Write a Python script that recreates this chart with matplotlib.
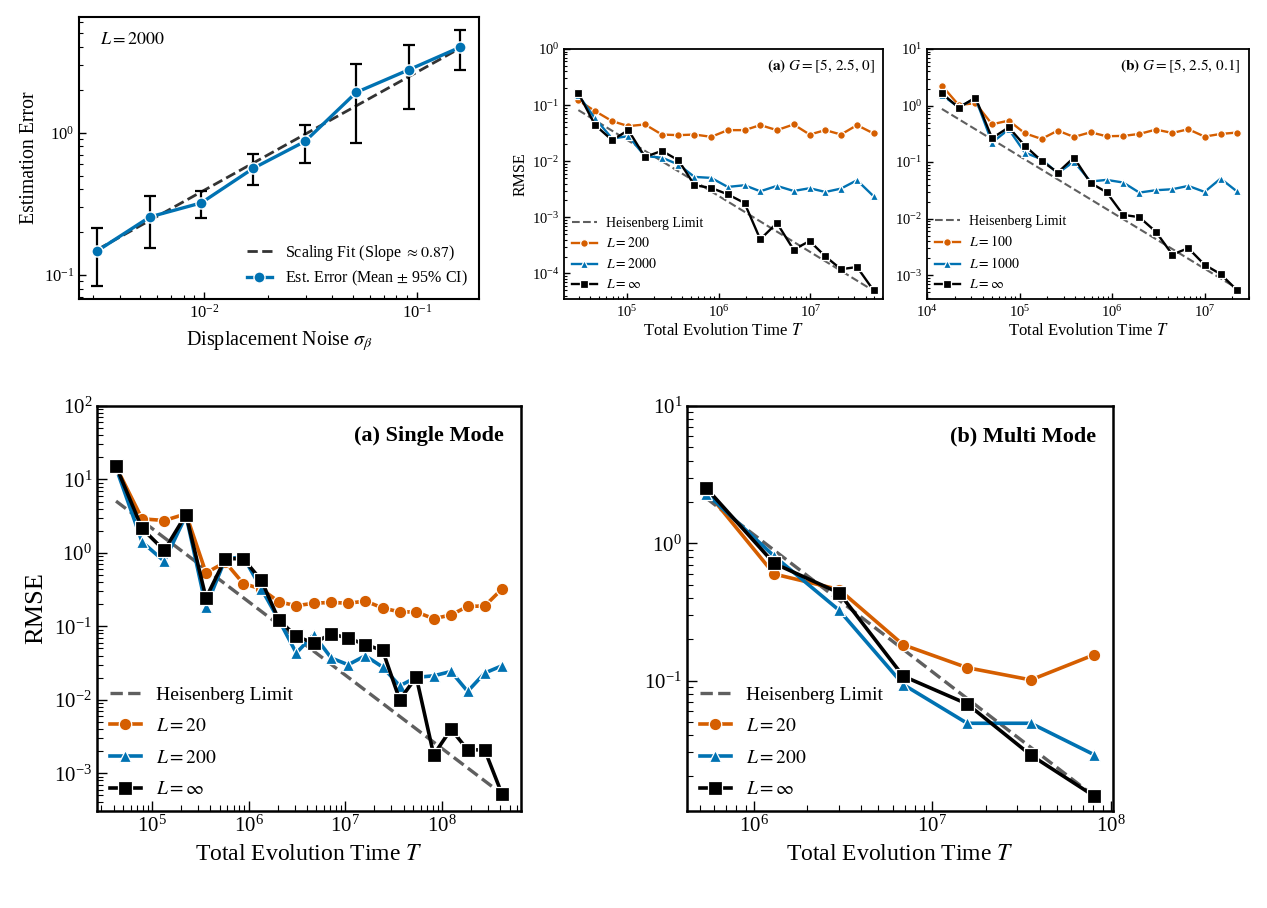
import numpy as np
import matplotlib
matplotlib.use("Agg")
import matplotlib.pyplot as plt
from matplotlib.ticker import LogLocator, NullFormatter

plt.rcParams['font.family'] = ['Liberation Serif', 'DejaVu Serif']
plt.rcParams['mathtext.fontset'] = 'stix'

ORANGE = '#D55E00'
BLUE = '#0072B2'
BLACK = '#000000'
HLGRAY = '#5f5f5f'

# ---------------- Top-left: estimation error vs displacement noise ----------------
sigma_beta = [0.00315, 0.00556, 0.00968, 0.0170, 0.0298, 0.0518, 0.0916, 0.159]
err_mean = [0.148, 0.256, 0.321, 0.562, 0.87, 1.92, 2.77, 3.98]
ci_low = [0.084, 0.154, 0.25, 0.427, 0.616, 0.842, 1.47, 2.74]
ci_high = [0.213, 0.357, 0.389, 0.705, 1.13, 3.03, 4.13, 5.25]
fit_sigma = [0.00315, 0.159]
fit_err = [0.151, 3.92]

# ---------------- Top-middle: (a) G=[5,2.5,0] ----------------
tA = [2.97e4, 4.52e4, 6.92e4, 1.04e5, 1.58e5, 2.41e5, 3.66e5, 5.47e5, 8.32e5, 1.26e6,
      1.92e6, 2.85e6, 4.33e6, 6.58e6, 9.84e6, 1.46e7, 2.16e7, 3.23e7, 4.9e7]
a_L200 = [0.121, 0.0781, 0.0518, 0.0422, 0.0452, 0.0299, 0.0291, 0.0299, 0.0272, 0.0358,
          0.0358, 0.044, 0.0358, 0.0452, 0.0299, 0.0358, 0.0299, 0.044, 0.0312]
a_L2000 = [0.151, 0.0578, 0.0254, 0.0279, 0.0123, 0.0116, 0.00872, 0.00525, 0.00504, 0.00348,
           0.00373, 0.00291, 0.00363, 0.00295, 0.0033, 0.00283, 0.00325, 0.00458, 0.00237]
a_Linf = [0.162, 0.044, 0.0237, 0.0358, 0.0119, 0.0153, 0.0104, 0.00373, 0.00334, 0.00257,
          0.0018, 0.000405, 0.000792, 0.000265, 0.000378, 0.000201, 0.000119, 0.00013, 0.0000497]
a_hl_t = [2.97e4, 4.9e7]
a_hl = [0.0814, 4.9e-5]

# ---------------- Top-right: (b) G=[5,2.5,0.1] ----------------
tB = [1.45e4, 2.2e4, 3.34e4, 5.05e4, 7.65e4, 1.14e5, 1.73e5, 2.59e5, 3.87e5, 5.85e5,
      8.72e5, 1.32e6, 1.97e6, 2.98e6, 4.48e6, 6.67e6, 1.0e7, 1.49e7, 2.22e7]
b_L100 = [2.25, 1.02, 1.1, 0.466, 0.541, 0.323, 0.256, 0.36, 0.278, 0.336,
          0.286, 0.29, 0.314, 0.375, 0.327, 0.38, 0.282, 0.314, 0.332]
b_L1000 = [1.54, 0.93, 1.34, 0.221, 0.38, 0.147, 0.112, 0.0634, 0.102, 0.0452,
           0.0483, 0.0434, 0.0288, 0.0317, 0.033, 0.0378, 0.0296, 0.051, 0.0305]
b_Linf = [1.64, 0.918, 1.38, 0.264, 0.412, 0.195, 0.105, 0.0652, 0.12, 0.0428,
          0.0292, 0.0116, 0.0106, 0.00582, 0.00231, 0.00299, 0.00152, 0.00104, 0.00055]
b_hl_t = [1.45e4, 2.22e7]
b_hl = [0.869, 5.87e-4]

# ---------------- Bottom-left: (a) Single Mode ----------------
tS = [4.25e4, 7.9e4, 1.34e5, 2.25e5, 3.62e5, 5.74e5, 8.81e5, 1.35e6, 2.06e6, 3.11e6, 4.7e6,
      7.16e6, 1.07e7, 1.61e7, 2.43e7, 3.65e7, 5.42e7, 8.2e7, 1.24e8, 1.84e8, 2.76e8, 4.18e8]
s_L20 = [14.9, 2.91, 2.76, 3.4, 0.534, 0.746, 0.382, 0.323, 0.215, 0.191, 0.206,
         0.212, 0.206, 0.221, 0.178, 0.157, 0.157, 0.127, 0.143, 0.187, 0.189, 0.323]
s_L200 = [14.4, 1.41, 0.769, 3.23, 0.184, 0.83, 0.882, 0.326, 0.121, 0.0433, 0.0769,
          0.037, 0.03, 0.0398, 0.0279, 0.0155, 0.0202, 0.0212, 0.0243, 0.013, 0.0231, 0.0291]
s_Linf = [15.2, 2.15, 1.08, 3.33, 0.243, 0.837, 0.83, 0.424, 0.121, 0.0731, 0.0593,
          0.0786, 0.0693, 0.0562, 0.0471, 0.01, 0.0204, 0.00178, 0.00398, 0.00208, 0.00208, 0.000517]
s_hl_t = [4.25e4, 4.18e8]
s_hl = [5.07, 5.2e-4]

# ---------------- Bottom-right: (b) Multi Mode ----------------
tM = [5.43e5, 1.3e6, 3.01e6, 6.88e6, 1.57e7, 3.57e7, 8.07e7]
m_L20 = [2.4, 0.597, 0.46, 0.182, 0.124, 0.101, 0.154]
m_L200 = [2.3, 0.807, 0.325, 0.0935, 0.0488, 0.0488, 0.0288]
m_Linf = [2.52, 0.714, 0.435, 0.1076, 0.0675, 0.0286, 0.0144]
m_hl_t = [5.43e5, 8.07e7]
m_hl = [2.13, 0.0144]

W, H = 1267, 908
fig = plt.figure(figsize=(W / 100, H / 100), dpi=100)


def add_axes_px(x0, x1, y0, y1):
    return fig.add_axes([x0 / W, 1 - y1 / H, (x1 - x0) / W, (y1 - y0) / H])


def style(ax, labelsize, majlen, minlen, spw):
    ax.set_xscale('log')
    ax.set_yscale('log')
    for axis in (ax.xaxis, ax.yaxis):
        axis.set_major_locator(LogLocator(base=10, numticks=30))
        axis.set_minor_locator(LogLocator(base=10, subs=np.arange(2, 10), numticks=30))
        axis.set_minor_formatter(NullFormatter())
    ax.tick_params(which='both', direction='in', top=False, right=False, labelsize=labelsize)
    ax.tick_params(which='major', length=majlen, width=1.0)
    ax.tick_params(which='minor', length=minlen, width=0.8)
    for s in ax.spines.values():
        s.set_linewidth(spw)


def series(ax, t, y, color, marker, ms, lw, label):
    ax.plot(t, y, color=color, marker=marker, ms=ms, lw=lw, mec='white', mew=0.9,
            label=label, solid_joinstyle='miter')


# ---- Top-left ----
ax0 = add_axes_px(79, 479, 17, 299)
style(ax0, 12, 5, 3, 1.5)
ax0.plot(fit_sigma, fit_err, ls='--', color='#333333', lw=2.0,
         label=r'Scaling Fit (Slope $\approx 0.87$)', zorder=2)
yerr = [np.array(err_mean) - np.array(ci_low), np.array(ci_high) - np.array(err_mean)]
ax0.errorbar(sigma_beta, err_mean, yerr=yerr, fmt='none', ecolor='black', elinewidth=1.6,
             capsize=4, capthick=1.6, zorder=3)
ax0.plot(sigma_beta, err_mean, color=BLUE, marker='o', ms=8, lw=2.4, mec='white', mew=1,
         label=r'Est. Error (Mean $\pm$ 95% CI)', zorder=4)
ax0.set_xlim(2.58e-3, 0.1954)
ax0.set_ylim(0.0678, 6.5)
ax0.set_xlabel(r'Displacement Noise $\sigma_\beta$', fontsize=14.5, labelpad=5)
ax0.set_ylabel('Estimation Error', fontsize=14.2, labelpad=3)
ax0.text(0.052, 0.95, r'$L=2000$', transform=ax0.transAxes, ha='left', va='top', fontsize=13)
ax0.legend(loc='lower right', frameon=False, fontsize=11.5, handlelength=1.6,
           handletextpad=0.8, borderaxespad=0.3, labelspacing=0.35)

# ---- Top-middle ----
ax1 = add_axes_px(564, 883, 49, 299)
style(ax1, 10.5, 4, 2.5, 1.3)
ax1.plot(a_hl_t, a_hl, ls='--', color=HLGRAY, lw=1.5, label='Heisenberg Limit', zorder=2)
series(ax1, tA, a_L200, ORANGE, 'o', 5.5, 1.7, r'$L=200$')
series(ax1, tA, a_L2000, BLUE, '^', 5.5, 1.7, r'$L=2000$')
series(ax1, tA, a_Linf, BLACK, 's', 5.8, 1.7, r'$L=\infty$')
ax1.set_xlim(2.07e4, 6.2e7)
ax1.set_ylim(3.5e-5, 1.0)
ax1.set_xlabel(r'Total Evolution Time $T$', fontsize=12, labelpad=2)
ax1.set_ylabel('RMSE', fontsize=11.5, labelpad=2)
ax1.text(0.975, 0.965, r'$\mathbf{(a)}$ $G=[5,\,2.5,\,0]$', transform=ax1.transAxes,
         ha='right', va='top', fontsize=11)
ax1.legend(loc='lower left', frameon=False, fontsize=10, handlelength=1.8,
           handletextpad=0.7, borderaxespad=0.15, labelspacing=0.5)

# ---- Top-right ----
ax2 = add_axes_px(927, 1249, 49, 299)
style(ax2, 10.5, 4, 2.5, 1.3)
ax2.plot(b_hl_t, b_hl, ls='--', color=HLGRAY, lw=1.5, label='Heisenberg Limit', zorder=2)
series(ax2, tB, b_L100, ORANGE, 'o', 5.5, 1.7, r'$L=100$')
series(ax2, tB, b_L1000, BLUE, '^', 5.5, 1.7, r'$L=1000$')
series(ax2, tB, b_Linf, BLACK, 's', 5.8, 1.7, r'$L=\infty$')
ax2.set_xlim(1.0e4, 3.02e7)
ax2.set_ylim(3.77e-4, 10.0)
ax2.set_xlabel(r'Total Evolution Time $T$', fontsize=12, labelpad=2)
ax2.text(0.975, 0.965, r'$\mathbf{(b)}$ $G=[5,\,2.5,\,0.1]$', transform=ax2.transAxes,
         ha='right', va='top', fontsize=11)
ax2.legend(loc='lower left', frameon=False, fontsize=10, handlelength=1.8,
           handletextpad=0.7, borderaxespad=0.15, labelspacing=0.5)

# ---- Bottom-left ----
ax3 = add_axes_px(97, 521, 406, 811)
style(ax3, 15, 7, 4, 1.8)
ax3.plot(s_hl_t, s_hl, ls='--', color=HLGRAY, lw=2.4, label='Heisenberg Limit', zorder=2)
series(ax3, tS, s_L20, ORANGE, 'o', 9, 2.6, r'$L=20$')
series(ax3, tS, s_L200, BLUE, '^', 9, 2.6, r'$L=200$')
series(ax3, tS, s_Linf, BLACK, 's', 9.5, 2.6, r'$L=\infty$')
ax3.set_xlim(2.7e4, 6.56e8)
ax3.set_ylim(3.06e-4, 100.0)
ax3.set_xlabel(r'Total Evolution Time $T$', fontsize=17, labelpad=5)
ax3.set_ylabel('RMSE', fontsize=19, labelpad=5)
ax3.text(0.96, 0.95, '(a) Single Mode', transform=ax3.transAxes, ha='right', va='top',
         fontsize=16, fontweight='bold')
ax3.legend(loc='lower left', frameon=False, fontsize=14, handlelength=1.6,
           handletextpad=0.8, borderaxespad=0.25, labelspacing=0.72)

# ---- Bottom-right ----
ax4 = add_axes_px(687, 1113, 406, 811)
style(ax4, 15, 7, 4, 1.8)
ax4.plot(m_hl_t, m_hl, ls='--', color=HLGRAY, lw=2.4, label='Heisenberg Limit', zorder=2)
series(ax4, tM, m_L20, ORANGE, 'o', 9, 2.6, r'$L=20$')
series(ax4, tM, m_L200, BLUE, '^', 9, 2.6, r'$L=200$')
series(ax4, tM, m_Linf, BLACK, 's', 9.5, 2.6, r'$L=\infty$')
ax4.set_xlim(4.23e5, 1.03e8)
ax4.set_ylim(0.0112, 10.0)
ax4.set_xlabel(r'Total Evolution Time $T$', fontsize=17, labelpad=5)
ax4.text(0.96, 0.95, '(b) Multi Mode', transform=ax4.transAxes, ha='right', va='top',
         fontsize=16, fontweight='bold')
ax4.legend(loc='lower left', frameon=False, fontsize=14, handlelength=1.6,
           handletextpad=0.8, borderaxespad=0.25, labelspacing=0.72)

fig.savefig('out.png', dpi=100, facecolor='white')
